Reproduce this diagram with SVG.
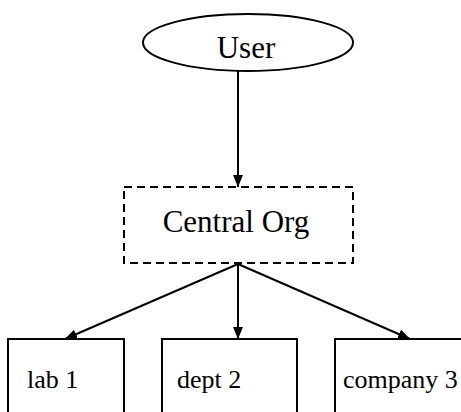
<svg xmlns="http://www.w3.org/2000/svg" width="461" height="412" viewBox="0 0 461 412">
<style>
.shape{fill:#fff;stroke:#000;stroke-width:2}
.dash{stroke-dasharray:8,5}
.edge{stroke:#000;stroke-width:2;fill:none}
text{font-family:'Liberation Serif','DejaVu Serif',serif;fill:#000}
</style>
<defs>
<marker id="arr" viewBox="0 0 12 10" refX="12" refY="5" markerWidth="12" markerHeight="10" markerUnits="userSpaceOnUse" orient="auto">
<path d="M0,0 L12,5 L0,10 Z" fill="#000"/>
</marker>
</defs>
<g id="user">
<ellipse class="shape" cx="248" cy="42.5" rx="105" ry="28.5"/>
<text x="246" y="58" font-size="31" text-anchor="middle">User</text>
</g>
<g id="central">
<rect class="shape dash" x="124" y="187" width="229" height="76"/>
<text x="236" y="232" font-size="31" text-anchor="middle">Central Org</text>
</g>
<g id="lab1">
<rect class="shape" x="8" y="339" width="116" height="90"/>
<text x="27" y="388" font-size="26">lab 1</text>
</g>
<g id="dept2">
<rect class="shape" x="162" y="339" width="135" height="90"/>
<text x="177" y="388" font-size="26">dept 2</text>
</g>
<g id="company3">
<rect class="shape" x="335" y="339" width="140" height="90"/>
<text x="343" y="388" font-size="26">company 3</text>
</g>
<g id="connectors">
<line class="edge" x1="238" y1="71" x2="238" y2="187" marker-end="url(#arr)"/>
<line class="edge" x1="238" y1="264" x2="65" y2="339" marker-end="url(#arr)"/>
<line class="edge" x1="238" y1="264" x2="238" y2="339" marker-end="url(#arr)"/>
<line class="edge" x1="238" y1="264" x2="410" y2="339" marker-end="url(#arr)"/>
</g>
</svg>
